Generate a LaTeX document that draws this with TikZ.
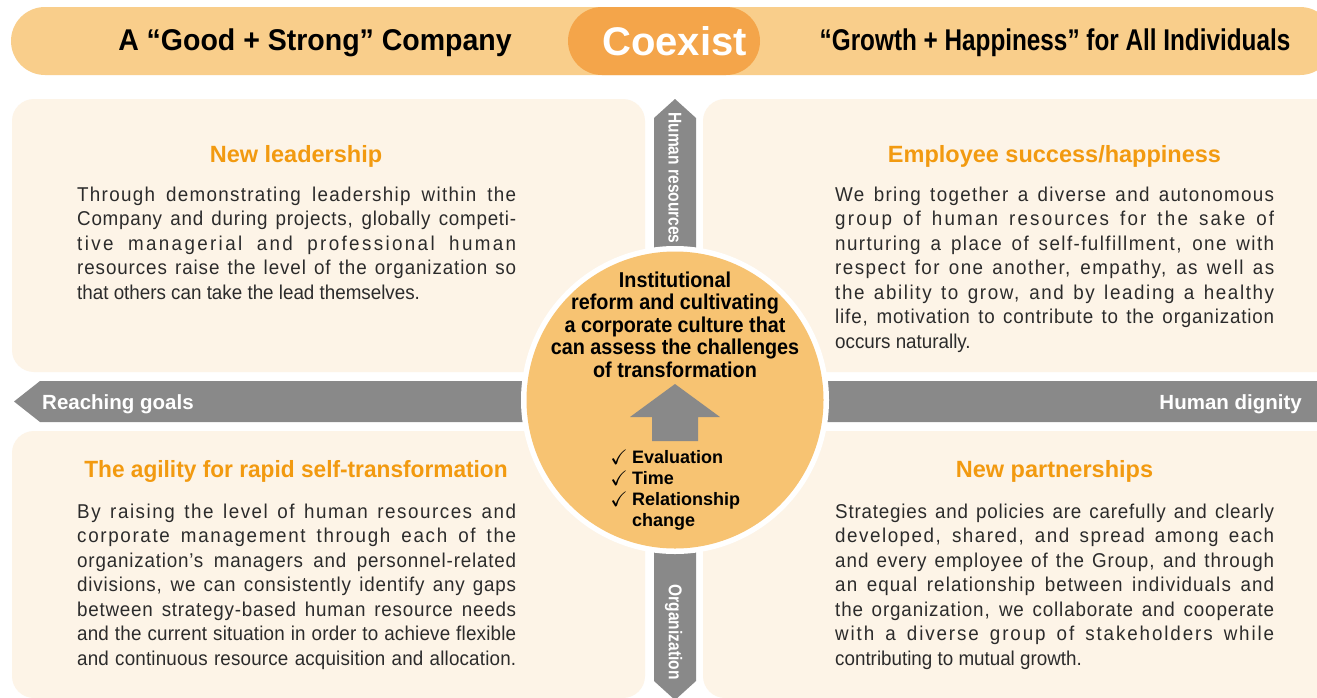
\documentclass[tikz,border=0pt]{standalone}
\usepackage{fontspec}
\usepackage{amssymb}
\setmainfont{Liberation Sans}
\newfontfamily\bodyf[FakeStretch=0.94]{Liberation Sans}
\newfontfamily\condf[FakeStretch=0.92]{Liberation Sans}
\newfontfamily\vertf[FakeStretch=0.84]{Liberation Sans}
\newfontfamily\barf[FakeStretch=0.95]{Liberation Sans}
\newfontfamily\barg[FakeStretch=0.81]{Liberation Sans}
\newfontfamily\agilf[FakeStretch=0.965]{Liberation Sans}
\definecolor{topbar}{HTML}{F9CE8B}
\definecolor{coex}{HTML}{F4A54A}
\definecolor{panel}{HTML}{FDF4E7}
\definecolor{band}{HTML}{898989}
\definecolor{circ}{HTML}{F7C372}
\definecolor{titleor}{HTML}{F29A10}
\definecolor{bodytxt}{HTML}{2B2B2B}
\newlength\jlA
\newlength\jlB
\newcommand\jl[1]{%
  \settowidth\jlA{#1}%
  \settowidth\jlB{\addfontfeature{LetterSpace=5}#1}%
  \pgfmathsetmacro\jlls{max(-2,min(12,5*0.75*(437pt-\jlA)/(\jlB-\jlA)))}%
  \makebox[439pt][s]{\addfontfeature{LetterSpace=\jlls}#1}}
\begin{document}
\begin{tikzpicture}[x=1pt,y=-1pt,
  body/.style={inner sep=0pt,anchor=base west,text=bodytxt,font=\bodyf\fontsize{20}{24}\selectfont},
  ptitle/.style={inner sep=0pt,anchor=base,text=titleor,font=\bfseries\fontsize{23.5}{28}\selectfont},
  bartitle/.style={inner sep=0pt,anchor=base,text=black,font=\bfseries\fontsize{30}{34}\selectfont},
  ctext/.style={inner sep=0pt,anchor=base,text=black,font=\condf\bfseries\fontsize{21.5}{24}\selectfont},
  checkitem/.style={inner sep=0pt,anchor=base west,text=black,font=\bfseries\fontsize{18}{21}\selectfont},
  bandlbl/.style={inner sep=0pt,text=white,font=\bfseries\fontsize{20.5}{24}\selectfont},
  vlbl/.style={inner sep=0pt,text=white,rotate=-90,font=\vertf\bfseries\fontsize{18.5}{20}\selectfont}]
\useasboundingbox (0,0) rectangle (1317,697);
\fill[white] (0,0) rectangle (1317,697);
% top bar
\fill[topbar,rounded corners=34pt] (11,7) rectangle (1334,75);
\fill[coex,rounded corners=34pt] (568,7) rectangle (760,75);
\node[bartitle] (tleft) at (315,50) {\barf A “Good + Strong” Company};
\node[bartitle] (tright) at (1055,50) {\barg “Growth + Happiness” for All Individuals};
\node[inner sep=0pt,anchor=base,text=white,font=\bfseries\fontsize{40}{44}\selectfont] (coexist) at (674.5,55) {Coexist};
% panels
\fill[panel,rounded corners=22pt] (12,99) rectangle (645,372);
\fill[panel,rounded corners=22pt] (703,99) rectangle (1345,372);
\fill[panel,rounded corners=22pt] (12,431) rectangle (645,698);
\fill[panel,rounded corners=22pt] (703,431) rectangle (1345,698);
% gray bands
\fill[band] (14,401.5) -- (40,381) -- (1320,381) -- (1320,422) -- (40,422) -- cycle;
\fill[band] (654,118) -- (675,99) -- (696,118) -- (696,300) -- (654,300) -- cycle;
\fill[band] (654,500) -- (696,500) -- (696,681) -- (675,700) -- (654,681) -- cycle;
\node[bandlbl,anchor=base west] (reach) at (42,409) {Reaching goals};
\node[bandlbl,anchor=base east] (dignity) at (1302,409) {Human dignity};
\node[vlbl] (hr) at (675,178) {Human resources};
\node[vlbl] (org) at (673.5,632) {Organization};
% circle
\fill[white] (675,400) circle (154);
\fill[circ] (675,400) circle (148.5);
\foreach \t [count=\i] in {{Institutional},{reform and cultivating},{a corporate culture that},{can assess the challenges},{of transformation}}
  \node[ctext] (c\i) at (675,{287+22.5*(\i-1)}) {\t};
\fill[band] (675,384) -- (720,417) -- (698,417) -- (698,441) -- (652,441) -- (652,417) -- (630,417) -- cycle;
\foreach \t [count=\i] in {{Evaluation},{Time},{Relationship},{change}}
  \node[checkitem] (k\i) at (632,{463+21.3*(\i-1)}) {\t};
\foreach \i in {1,2,3}
  \node[inner sep=0pt,anchor=base east,font=\fontsize{21}{22}\selectfont] (ck\i) at (628,{464+21.3*(\i-1)}) {$\checkmark$};
% panel titles
\node[ptitle] (t1) at (296,162) {New leadership};
\node[ptitle] (t2) at (1054.5,162) {Employee success/happiness};
\node[ptitle] (t3) at (296,477) {\agilf The agility for rapid self-transformation};
\node[ptitle] (t4) at (1054.5,477) {New partnerships};
% body texts
\foreach \t [count=\i] in {{Through demonstrating leadership within the},{Company and during projects, globally competi-},{tive managerial and professional human},{resources raise the level of the organization so}}
  \node[body] (a\i) at (77,{201+24.5*(\i-1)}) {\jl{\t}};
\node[body] (a5) at (77,299) {that others can take the lead themselves.};
\foreach \t [count=\i] in {{We bring together a diverse and autonomous},{group of human resources for the sake of},{nurturing a place of self-fulfillment, one with},{respect for one another, empathy, as well as},{the ability to grow, and by leading a healthy},{life, motivation to contribute to the organization}}
  \node[body] (b\i) at (835,{201+24.5*(\i-1)}) {\jl{\t}};
\node[body] (b7) at (835,348) {occurs naturally.};
\foreach \t [count=\i] in {{By raising the level of human resources and},{corporate management through each of the},{organization’s managers and personnel-related},{divisions, we can consistently identify any gaps},{between strategy-based human resource needs},{and the current situation in order to achieve flexible},{and continuous resource acquisition and allocation.}}
  \node[body] (d\i) at (77,{518+24.5*(\i-1)}) {\jl{\t}};
\foreach \t [count=\i] in {{Strategies and policies are carefully and clearly},{developed, shared, and spread among each},{and every employee of the Group, and through},{an equal relationship between individuals and},{the organization, we collaborate and cooperate},{with a diverse group of stakeholders while}}
  \node[body] (e\i) at (835,{518+24.5*(\i-1)}) {\jl{\t}};
\node[body] (e7) at (835,665) {contributing to mutual growth.};
\end{tikzpicture}
\end{document}
